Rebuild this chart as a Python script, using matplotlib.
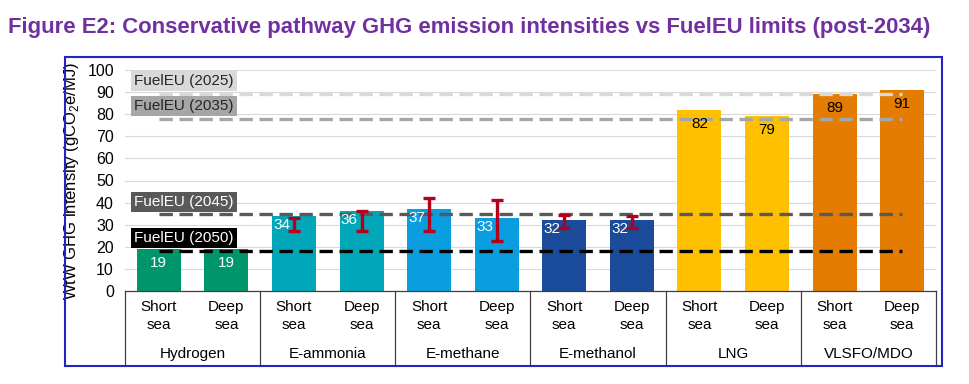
import matplotlib
matplotlib.use("Agg")
import matplotlib.pyplot as plt
import matplotlib.transforms as mtransforms
from matplotlib.patches import Rectangle
import numpy as np

plt.rcParams.update({
    "font.family": ["Liberation Sans", "DejaVu Sans"],
    "mathtext.fontset": "custom",
    "mathtext.rm": "Liberation Sans",
    "font.size": 11,
})

# data
fuels = ["Hydrogen", "E-ammonia", "E-methane", "E-methanol", "LNG", "VLSFO/MDO"]
routes = ["Short\nsea", "Deep\nsea"]
fuel_colors = ["#00966c", "#00a7b8", "#0a9ee0", "#1b4b9b", "#ffc000", "#e37c00"]
values = [19, 19, 34, 36, 37, 33, 32, 32, 82, 79, 89, 91]
value_labels = ["19", "19", "34", "36", "37", "33", "32", "32", "82", "79", "89", "91"]
err_low = [None, None, 27, 27, 27, 22.6, 28.5, 28.5, None, None, None, None]
err_high = [None, None, 33, 36, 42, 41, 34.5, 34, None, None, None, None]

limit_names = ["FuelEU (2025)", "FuelEU (2035)", "FuelEU (2045)", "FuelEU (2050)"]
limit_values = [89.34, 77.94, 34.64, 18.23]
limit_colors = ["#d9d9d9", "#a6a6a6", "#595959", "#000000"]
limit_text_colors = ["#262626", "#262626", "#ffffff", "#ffffff"]

W, H = 970, 384
fig = plt.figure(figsize=(W / 100, H / 100), dpi=100)

# axes placed in pixel terms
left, right, top, bottom = 125, 936, 70, 291
ax = fig.add_axes([left / W, 1 - bottom / H, (right - left) / W, (bottom - top) / H])

n = len(values)
x = np.arange(n)
bar_colors = [fuel_colors[i // 2] for i in range(n)]

ax.bar(x, values, width=0.65, color=bar_colors, zorder=2)

# FuelEU limit lines
for name, lim, col, tcol in zip(limit_names, limit_values, limit_colors, limit_text_colors):
    ax.plot([0, n - 1], [lim, lim], color=col, lw=2.4, ls=(0, (4, 2)), zorder=3)
    ax.text(-0.36, lim + 5.8, name, color=tcol, fontsize=11, va="center", ha="left",
            zorder=5, bbox=dict(boxstyle="square,pad=0.2", fc=col, ec="none"))

# error bars
for i in range(n):
    if err_low[i] is None:
        continue
    mid = (err_low[i] + err_high[i]) / 2
    half = (err_high[i] - err_low[i]) / 2
    ax.errorbar(x[i], mid, yerr=half, fmt="none", ecolor="#b4001c",
                elinewidth=2.4, capsize=4, capthick=2.4, zorder=4)

# value labels
for i in range(n):
    if i < 2:
        ax.text(x[i], values[i] - 6.5, value_labels[i], color="white",
                ha="center", va="center", fontsize=11, zorder=6)
    elif i < 8:
        ax.text(x[i] - 0.18, values[i] - 4, value_labels[i], color="white",
                ha="center", va="center", fontsize=11, zorder=6)
    else:
        ax.text(x[i], values[i] - 6.3, value_labels[i], color="black",
                ha="center", va="center", fontsize=11, zorder=6)

ax.set_xlim(-0.5, n - 0.5)
ax.set_ylim(0, 100)
ax.set_yticks(np.arange(0, 101, 10))
ax.set_xticks([])
ax.tick_params(axis="y", length=0, pad=8, labelsize=11.5)
ax.grid(axis="y", color="#d9d9d9", lw=0.8, zorder=0)
ax.set_axisbelow(True)
for s in ax.spines.values():
    s.set_visible(False)

ax.set_ylabel("WtW GHG intensity (gCO$_\\mathregular{2}$e/MJ)", fontsize=12)
ax.yaxis.set_label_coords(-(left - 81) / (right - left), 0.5)

# category table below the axis
trans = mtransforms.blended_transform_factory(ax.transData, ax.transAxes)
ax_h = bottom - top
y_bot = -(365 - bottom) / ax_h
ax.plot([-0.5, n - 0.5], [0, 0], color="#404040", lw=0.9, transform=trans, clip_on=False)
for b in np.arange(-0.5, n, 2):
    ax.plot([b, b], [0, y_bot], color="#404040", lw=0.9, transform=trans, clip_on=False)
for i in range(n):
    ax.text(x[i], -(316 - bottom) / ax_h, routes[i % 2], ha="center", va="center",
            fontsize=11, linespacing=1.35, transform=trans)
for g, name in enumerate(fuels):
    ax.text(2 * g + 0.5, -(354 - bottom) / ax_h, name, ha="center", va="center",
            fontsize=11, transform=trans)

# blue frame around the chart
fig.patches.append(Rectangle((65 / W, 1 - 366 / H), (942 - 65) / W, (366 - 57) / H,
                             transform=fig.transFigure, fill=False,
                             ec="#2424c4", lw=1.5))

fig.text(8 / W, 1 - 27 / H,
         "Figure E2: Conservative pathway GHG emission intensities vs FuelEU limits (post-2034)",
         color="#7030a0", fontsize=15.9, fontweight="bold", va="center", ha="left")

fig.savefig("out.png", dpi=100)
